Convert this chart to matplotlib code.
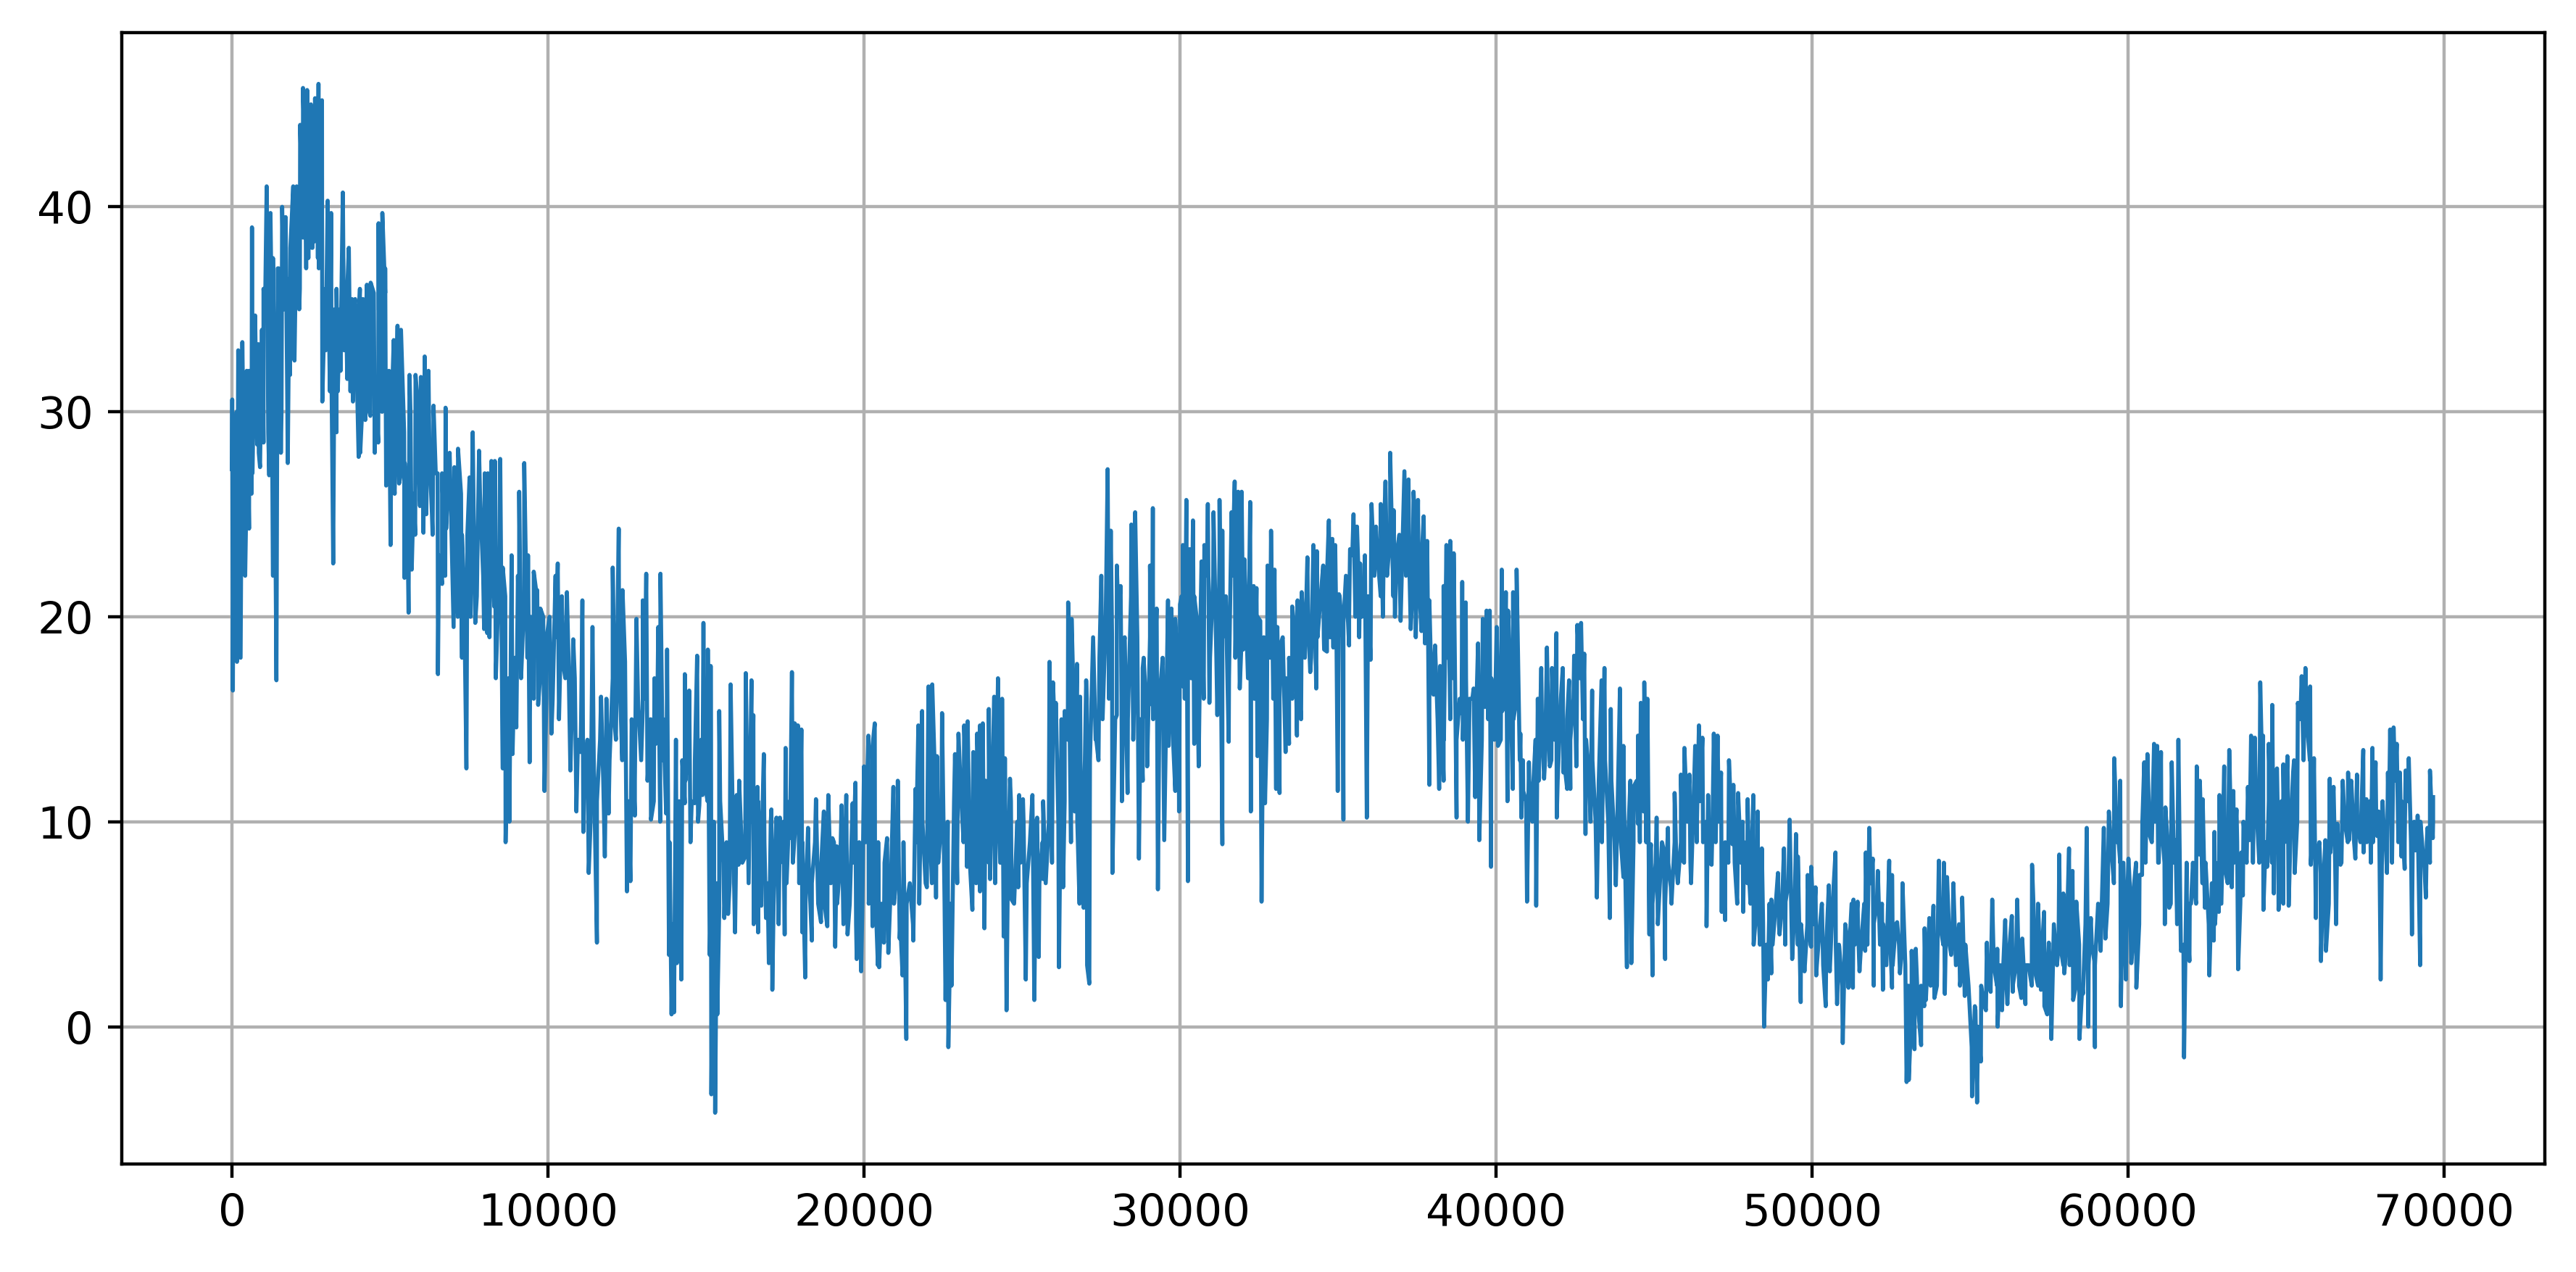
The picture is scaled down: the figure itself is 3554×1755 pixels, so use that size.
import numpy as np
import matplotlib
matplotlib.use('Agg')
import matplotlib.pyplot as plt

# Valores: (paso, valor) de picos y valles
picos_0 = [(0,27.2),(10,30.6),(120,29),(200,33),(330,33.4),(470,32),(635,39),(735,34.7),(840,33.3),(1000,36),
           (1100,41),(1220,39.7),(1300,37.5),(1480,37),(1590,40),(1700,39.5),(1820,36.5),(1940,41),(2050,41),
           (2160,44),(2250,45.8),(2310,42),(2380,45.7),(2440,44.5),(2500,45),(2570,44),(2630,45.3),(2690,44.5),
           (2740,46),(2800,45),(2850,45.2),(3030,40.3),(3140,39.7),(3310,36),(3420,35),(3510,40.7),(3600,36),
           (3700,38),(3800,35.5),(3900,35.5),(4020,34.8),(4150,35.5),(4270,36.2),(4390,36.3),(4490,35.8),
           (4640,39.2),(4760,39.7),(4850,35.8),(4970,32),(5120,33.5),(5240,34.2),(5350,34),(5470,27.5),
           (5620,31.8),(5810,31.8),(5980,31.7),(6100,32.7),(6220,32),(6380,30.3),(6510,27),(6650,27),(6760,30.2),
           (6890,28),(7040,27.3),(7155,28.2),(7280,24),(7520,26.8),(7620,29),(7820,28.1),(8000,27),(8100,27),
           (8210,27.6),(8320,27.6),(8490,27.7),(8570,22.4),(9090,26.1),(9250,27.5),(9370,23),(9550,22.2),
           (9660,21.3),(9760,20.4),(9950,18.9)]
valles_0 = [(30,16.4),(70,18),(160,17.8),(275,18),(420,22),(543,24.3),(620,26),(800,28.4),(890,27.3),(1000,28.5),
            (1180,26.9),(1300,22),(1408,16.9),(1570,30),(1767,27.5),(1840,31.8),(1980,32.5),(2130,35),(2250,38.5),
            (2345,38),(2420,37.5),(2530,38),(2600,38.3),(2720,37.5),(2860,30.5),(2970,33),(3100,31),(3205,22.6),
            (3310,29),(3440,32),(3650,31.6),(3830,30.5),(4010,27.8),(4060,28),(4220,29.6),(4380,29.8),(4520,28),
            (4630,28.5),(4880,26.4),(5020,23.5),(5130,26.5),(5290,26.5),(5460,21.9),(5590,20.2),(5690,22.3),
            (5800,24),(5950,25.4),(6060,24.1),(6330,25),(6520,17.2),(6650,21.6),(6780,24.3),(7015,19.5),(7280,18),
            (7420,12.6),(7700,19.7),(7980,19.4),(8080,19.2),(8300,20.5),(8570,12.6),(8660,9),(8780,10),(8880,13.3),
            (9000,14.6),(9090,19.4),(9420,12.9),(9690,15.7),(9890,11.5)]

picos_1 = [(10240,22),(10310,22.6),(10440,21),(10600,21.2),(10800,18.9),(11090,20.8),(11410,19.5),(11680,16.1),
           (11840,13.5),(12050,22.4),(12240,24.3),(12360,21.3),(12440,17.8),(12800,19.9),(13000,20.8),(13110,22.1),
           (13370,17),(13490,19.5),(13560,22.1),(13770,18.4),(14330,17.2),(14470,16.4),(14720,18.1),(14920,19.7),
           (15060,18.4),(15150,17.6),(15420,15.4),(15780,16.7),(15970,11.3),(16260,17.25),(16440,16.9),(16500,15.2),
           (16630,11.7),(16830,13.3),(17070,10.6),(17230,10.2),(17340,10.2),(17520,13.6),(17720,17.3),(17810,14.8),
           (17910,14.7),(18020,14.5),(18230,9.7),(18480,11.1),(18730,10.5),(18870,11.3),(19000,9.2),(19140,8.8),
           (19290,10.8),(19440,11.3),(19640,10.9),(19730,11.9)]
valles_1 = [(10110,14.3),(10480,17.7),(10710,12.5),(10900,10.5),(11030,13.4),(11120,9.5),(11290,7.5),(11550,4.1),
            (11800,8.3),(11920,10.4),(12110,14.8),(12500,6.6),(12610,7.1),(12750,10.3),(13000,15.5),(13260,10.1),
            (13410,13.8),(13630,13),(13740,10.4),(13830,3.5),(13910,0.6),(13990,0.7),(14080,3.1),(14220,2.3),
            (14330,10.9),(14510,9),(14640,10.9),(14790,10.8),(14890,11.3),(15090,10.2),(15120,3.5),(15170,-3.3),
            (15290,-4.2),(15360,0.6),(15420,5.8),(15580,5.3),(15700,5.5),(15920,4.6),(16030,7.9),(16240,8.3),
            (16510,5),(16650,4.6),(16750,5.9),(16900,5.3),(16990,3.1),(17100,1.8),(17300,5),(17490,4.5),(17660,9.2),
            (17810,9.4),(18050,4.6),(18140,2.4),(18350,4.2),(18640,5.1),(18840,4.9),(19090,3.9),(19480,4.5),
            (19770,3.3),(19910,2.7)]

picos_2 = [(20000,12.7),(20140,14.2),(20270,13.7),(20340,14.8),(20730,9.2),(20930,11.7),(21070,12),(21630,11.6),
           (21720,14.7),(21840,15.4),(22040,16.6),(22160,16.7),(22310,13.2),(22470,15.3),(22880,13.3),(22990,14.3),
           (23170,14.7),(23280,14.9),(23460,13.4),(23580,14.3),(23670,14.7),(23760,14.8),(23950,15.5),(24120,16.1),
           (24240,17),(24370,16),(24460,13.1),(24620,12.1),(24910,11.3),(25030,11.1),(25330,11.3),(25480,10.2),
           (25670,11),(25870,17.8),(25980,16.8),(26070,15.8),(26350,15.4),(26460,20.7),(26570,19.9),(26740,17.7),
           (26840,16.1),(27030,16.9),(27510,22),(27710,27.2),(27810,24.2),(28000,22.5),(28120,21.5),(28230,18.8),
           (28460,24.5),(28580,25.1),(28820,17.5),(29050,22.5),(29140,25.3),(29260,20.4),(29620,20.8),(29730,20.4),
           (29850,19.9)]
valles_2 = [(20270,4.9),(20440,3),(20480,2.9),(20630,4.1),(20770,3.6),(21130,4.3),(21220,2.5),(21340,-0.6),
            (21560,4.2),(21990,6.8),(22280,6.3),(22580,1.3),(22670,-1),(22770,2),(22950,8.3),(23260,7.8),(23430,5.7),
            (23670,6.6),(23810,4.8),(23990,7.2),(24310,8),(24420,4.4),(24510,0.8),(24670,6.2),(24880,6.8),(25120,2.3),
            (25390,1.3),(25530,3.4),(25670,7.2),(26170,2.9),(26300,6.8),(26670,10.5),(26820,6),(26950,5.8),(27060,3),
            (27130,2.1),(27330,14),(27420,13),(27860,7.5),(28000,15.2),(28160,11),(28340,11.4),(28520,14),(28700,8.2),
            (28820,12),(28960,12.7),(29120,15.7),(29300,6.7),(29500,9.1),(29640,13.7),(29850,11.5),(29970,10.5)]

picos_3 = [(30000,20.6),(30090,23.5),(30200,25.7),(30300,23.3),(30410,24.7),(30530,19.9),(30680,22.7),(30770,23.5),
           (30880,25.5),(31060,25.1),(31250,25.7),(31340,24.2),(31450,20.5),(31630,25.1),(31730,26.6),(31840,26.1),
           (31950,26.1),(32040,22.8),(32220,25.6),(32330,21.5),(32420,21.4),(32540,19.8),(32770,22.5),(32880,24.2),
           (32990,22.3),(33080,19.5),(33190,18.7),(33450,18),(33550,20.5),(33720,20.8),(33850,21.2),(34030,22.9),
           (34220,23.5),(34330,23.2),(34530,22.5),(34710,24.7),(34820,23.8),(34910,23.5),(35030,21.1),(35170,19.7),
           (35380,23.3),(35490,25),(35600,24.4),(35700,22.6),(35850,21.8),(36060,25.5),(36200,24.4),(36350,25.5),
           (36500,26.6),(36650,28),(36760,25.2),(36940,24),(37100,27.1),(37230,26.7),(37390,26.1),(37530,25.7),
           (37710,24.9),(37820,23.7),(37890,20.8),(38070,18.6),(38230,17.6),(38340,21.5),(38430,23.5),(38550,23.7),
           (38660,23.1),(38930,21.7),(39040,20.7),(39160,16),(39290,16.5),(39430,18.7),(39580,19.9),(39700,20.3),
           (39800,20.3)]
valles_3 = [(30090,16.6),(30250,7.1),(30450,13.8),(30590,12.7),(30930,15.8),(31180,15.2),(31340,8.9),(31540,13.9),
            (31890,16.5),(32000,18.4),(32240,10.5),(32450,13.2),(32580,6.1),(32690,10.9),(33040,11.6),(33150,11.4),
            (33340,13.4),(33450,13.8),(33700,14.2),(33830,15),(34120,17.3),(34310,16.5),(34560,18.4),(34650,18.3),
            (34850,18.5),(34990,11.5),(35170,10.1),(35350,18.6),(35670,19),(35910,10.2),(36030,17.9),(36420,20),
            (36800,20),(36980,19.8),(37300,19.4),(37460,19),(37640,19.3),(37750,18.7),(37890,11.8),(38020,16.2),
            (38200,11.6),(38340,12),(38520,18.3),(38750,10.2),(38910,15.3),(39110,10),(39340,11.2),(39470,9.1),
            (39650,15.6),(39840,7.8)]

picos_4 = [(40020,19.5),(40180,22.3),(40310,21.2),(40380,20.3),(40540,21.2),(40650,22.3),(40770,14.3),(40860,11.5),
           (41040,12.9),(41160,11.3),(41320,16),(41430,17.5),(41610,18.5),(41770,17.5),(41910,19.2),(42110,17.5),
           (42310,16.9),(42470,18.1),(42570,19.6),(42690,19.7),(42790,18.2),(43040,16.4),(43340,16.9),(43430,17.5),
           (43630,15.5),(43920,16.5),(44030,13.7),(44350,11.7),(44490,14.2),(44580,15.8),(44690,16.8),(44790,16),
           (44900,8.9),(45080,10.2),(45310,8.6),(45440,9.7),(45650,11.4),(45850,12.3),(45960,13.6),(46120,12.3),
           (46300,13.7),(46420,14.7),(46530,14.1),(46710,11.3),(46890,14.3),(47010,14.2),(47120,12.4),(47370,13),
           (47510,11.8),(47660,11.4),(47800,10),(47960,11.1),(48140,11.3),(48280,10.5),(48410,8.7),(48710,6.2),
           (48920,7.5),(49110,8.7),(49290,10.1),(49490,9.4),(49550,8.3),(49860,7.4),(49970,7.8)]
valles_4 = [(40060,13.7),(40200,15.4),(40360,11),(40530,11.6),(40800,10.2),(40980,6.1),(41270,5.9),(41520,12.1),
            (41700,12.7),(41920,10.2),(42130,12.4),(42250,11.6),(42350,11.6),(42540,12.7),(42830,9.4),(42990,10),
            (43190,6.3),(43600,5.3),(43790,6.9),(44030,7.3),(44140,2.9),(44280,3.1),(44490,9.9),(44670,10.5),
            (44850,4.5),(44950,2.5),(45120,5),(45350,3.3),(45530,6.8),(45710,7.8),(45910,8.1),(46170,7),(46350,9.5),
            (46660,4.9),(46820,7.9),(47140,5.6),(47250,5.2),(47480,8.9),(47630,6),(47820,5.6),(48020,6.9),(48290,6.2),
            (48380,5.6),(48480,0),(48600,2.3),(48710,2.6),(48970,4.5),(49160,6.1),(49370,3.3),(49640,1.2),(49760,2.7),
            (49970,3.9)]

picos_5 = [(50110,6.8),(50310,6),(50530,6.9),(50740,8.5),(50860,3.9),(51090,4.5),(51310,6.2),(51440,6.1),(51700,8.5),
           (51810,9.7),(51920,8.2),(52080,7.6),(52210,6),(52440,8.1),(52530,7.4),(52690,5.1),(52860,7),(53150,3.7),
           (53280,3.8),(53560,4.8),(53710,5.3),(53840,5.9),(54010,8.1),(54170,8),(54270,7.3),(54470,7),(54750,6.3),
           (55170,0.8),(55530,4.1),(55700,6.2),(55860,3.8),(56110,5.2),(56320,5.4),(56490,6.2),(56650,4.3),(56960,7.9),
           (57150,6),(57340,5.6),(57490,4.1),(57820,8.4),(57950,6.5),(58130,8.7),(58240,7.6),(58360,6.1),(58690,9.7),
           (58820,5.3),(58930,3.2),(59080,5.4),(59230,9.7),(59390,10.5),(59560,13.1),(59750,12)]
valles_5 = [(50130,2.5),(50430,1),(50560,2.7),(50790,1.1),(50970,-0.8),(51150,1.9),(51290,1.9),(51500,2.7),(51680,3.7),
            (51950,2),(52240,1.8),(52530,1.9),(52780,2.6),(52990,-2.7),(53060,-2.6),(53240,-1.1),(53450,-0.9),(53600,1.3),
            (53870,1.4),(54200,1.6),(54400,3.5),(54680,2),(54830,1.5),(55060,-3.4),(55220,-3.7),(55340,-1.7),(55500,0.8),
            (55650,1.7),(55870,0),(56010,0.8),(56180,1.1),(56350,1.7),(56620,1.4),(56750,1.1),(57080,2.5),(57240,1.8),
            (57440,0.6),(57570,-0.6),(57800,4),(57980,2.6),(58260,1.3),(58460,-0.6),(58570,1.6),(58740,0),(58950,-1),
            (59130,3.7),(59280,4.3),(59490,8.2),(59690,9.2),(59770,1),(59930,2.3)]

picos_6 = [(60010,8.2),(60150,6.3),(60360,7.4),(60510,12.9),(60610,13.3),(60820,13.8),(60920,13.7),(61040,13.4),
           (61180,10.7),(61380,12.9),(61590,14),(61860,5.7),(61990,6),(62170,12.7),(62270,12),(62360,11.1),(62730,9.5),
           (62890,11.3),(63040,12.7),(63200,13.5),(63330,11.5),(63430,10.6),(63580,8.5),(63790,11.7),(63890,14.2),
           (64010,14.1),(64180,16.8),(64270,14.2),(64450,13.8),(64560,15.7),(64710,12.6),(64910,12.8),(65040,13.2),
           (65220,12.4),(65370,15.8),(65490,17.1),(65610,17.5),(65760,16.6),(65880,13.1),(66090,7.5),(66240,9.1),
           (66380,12.1),(66500,11.7),(66620,9.9),(66790,12),(66960,12.4),(67060,12),(67240,12.3),(67440,13.5),
           (67540,11.1),(67730,13.6),(67830,12.9),(67930,10.5),(68080,10),(68220,12.4),(68290,14.5),(68400,14.6),
           (68500,13.8),(68600,12.4),(68780,12.5),(68880,13.1),(69010,9.9),(69160,10.3),(69360,8.3),(69470,9.7),
           (69550,12.5),(69650,11.2)]
valles_6 = [(60100,3.1),(60260,1.9),(60440,7.4),(60670,9.4),(60970,8),(61160,5),(61300,5.8),(61500,9.1),(61670,3.7),
            (61770,-1.5),(61940,3.2),(62080,6.9),(62250,8.4),(62430,5.8),(62570,2.5),(62710,4.2),(62870,5.6),(63090,7.5),
            (63280,6.8),(63480,2.8),(63630,6.4),(63840,9.1),(64280,5.7),(64400,7.8),(64610,6.5),(64760,5.7),(64910,6),
            (65080,5.9),(65270,7.5),(65780,7.9),(65940,5.3),(66100,3.2),(66260,3.7),(66400,8.5),(66580,5),(66720,7.9),
            (66990,9.1),(67190,8.2),(67450,8.5),(67680,8),(67880,9.3),(67990,2.3),(68190,7.5),(68650,8.3),(68750,7.7),
            (68980,4.5),(69080,8.6),(69240,3),(69420,6.3),(69550,9),(69640,9.2)]

# Nucleo relleno de la banda, una fila por cada 1000 pasos (un valor cada 100)
nucleo = [
    [24,30,23,31,25,32,27,33,28,34], [35,29,36,30,37,28,35,31,38,33],
    [40,36,44,37,43,38,44,37,43,36], [37,32,35,31,34,33,36,31,35,32],
    [36,31,35,30,36,31,35,30,37,31], [30,26,31,27,29,25,30,26,31,27],
    [29,25,28,24,27,23,26,22,27,24], [25,20,26,21,24,20,25,21,26,22],
    [24,19,23,17,22,16,21,17,23,18], [22,17,21,18,20,16,21,17,20,16],
    [20,16,19,15,20,17,18,15,17,14], [15,12,14,10,13,11,14,12,16,13],
    [17,14,18,13,16,11,15,12,16,13], [16,12,15,11,14,10,15,11,9,5],
    [14,11,13,12,14,11,13,10,14,12], [11,6,10,7,11,8,9,7,10,8],
    [12,8,11,7,10,7,11,8,9,7], [10,7,9,8,10,7,11,8,10,7],
    [9,6,8,7,9,6,8,6,9,7], [9,6,8,5,9,6,8,5,9,6],
    [9,6,8,7,9,6,8,6,7,6], [8,5,9,6,7,5,9,6,10,7],
    [11,7,12,8,10,6,10,6,11,7], [12,9,11,8,12,7,11,8,12,8],
    [11,7,12,8,10,7,11,6,10,8], [10,7,9,8,10,7,9,7,10,8],
    [14,10,15,11,14,9,15,10,13,9], [16,13,19,14,18,15,20,16,19,15],
    [20,16,19,15,21,16,19,15,18,15], [19,15,20,16,18,14,19,15,18,16],
    [21,16,22,17,21,17,20,16,22,18], [22,18,23,19,21,17,22,18,23,19],
    [22,17,21,16,20,16,19,15,18,16], [18,16,19,17,18,16,19,17,20,18],
    [20,18,21,19,21,19,22,19,21,19], [21,19,22,20,23,20,22,20,23,21],
    [24,22,23,21,24,22,24,21,23,22], [24,22,23,21,24,22,23,20,19,17],
    [18,15,17,14,18,15,17,14,16,14], [17,15,16,14,15,14,16,15,17,14],
    [17,14,16,13,17,15,16,13,13,11], [12,10,14,12,15,13,15,13,14,12],
    [16,13,15,14,16,14,17,15,14,12], [13,10,12,9,13,10,12,9,11,9],
    [11,8,12,9,12,9,11,9,8,6], [8,6,9,6,8,6,9,7,9,8],
    [10,8,11,9,11,9,10,8,10,9], [10,8,9,8,10,8,9,8,9,7],
    [6,4,6,4,5,4,6,4,6,5], [6,4,7,5,6,4,5,3,5,4],
    [5,3,5,3,4,3,6,4,4,2], [5,3,6,4,5,4,6,4,7,5],
    [6,4,5,3,5,3,5,4,4,3], [2,1,3,1,2,1,3,2,4,2],
    [5,4,6,4,5,3,5,3,4,2], [-1,1,0,2,1,3,2,3,2,3],
    [3,2,4,2,3,2,4,3,3,2], [4,2,3,1,3,2,5,3,4,3],
    [4,3,5,2,4,2,5,3,4,3], [6,5,8,6,9,7,9,8,8,5],
    [7,4,8,5,10,8,11,9,10,8], [10,8,9,6,8,5,6,4,8,6],
    [8,6,9,7,8,5,7,5,8,6], [9,7,10,8,9,6,10,8,10,8],
    [11,8,12,9,11,8,12,9,11,9], [12,10,13,10,15,13,15,13,10,8],
    [9,6,8,6,10,8,9,8,10,9], [11,9,10,9,11,9,11,9,10,9],
    [11,9,10,8,12,9,11,9,11,9], [10,9,10,8,9,8,10],
]

tramos = [picos_0, valles_0, picos_1, valles_1, picos_2, valles_2, picos_3, valles_3,
          picos_4, valles_4, picos_5, valles_5, picos_6, valles_6]
valores_nucleo = [v for fila in nucleo for v in fila]
pasos_nucleo = 50 + 100 * np.arange(len(valores_nucleo))

serie = sorted([p for tramo in tramos for p in tramo] + list(zip(pasos_nucleo.tolist(), valores_nucleo)))
pasos = [p[0] for p in serie]
valores = [p[1] for p in serie]

plt.rcParams['font.size'] = 11
fig = plt.figure(figsize=(3554 / 400, 1755 / 400), dpi=400)
ax = fig.add_axes([168 / 3554, 1 - 1606 / 1755, 3343 / 3554, 1561 / 1755])
ax.plot(pasos, valores, color='#1f77b4', linewidth=1)
ax.set_xlim(-3485, 73185)
ax.set_ylim(-6.7, 48.5)
ax.grid(True)
fig.savefig('out.png')
